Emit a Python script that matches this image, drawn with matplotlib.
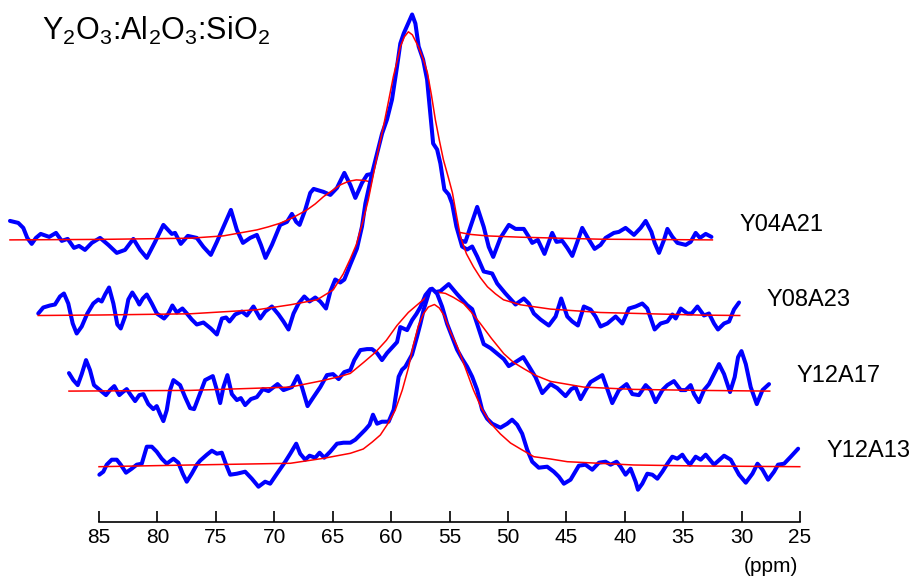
import matplotlib.pyplot as plt

plt.rcParams['font.family'] = ['Liberation Sans', 'DejaVu Sans']
plt.rcParams['mathtext.fontset'] = 'custom'
plt.rcParams['mathtext.rm'] = 'Liberation Sans'
plt.rcParams['mathtext.it'] = 'Liberation Sans:italic'

# spectra, top to bottom of the stack (own ppm scale, intensity in arbitrary units)
samples = ['Y04A21', 'Y08A23', 'Y12A17', 'Y12A13']

y04a21_ppm = [84.91, 84.20, 83.77, 83.43, 83.05, 82.69, 82.28, 81.55, 80.97, 80.48,
              79.97, 79.43, 79.00, 78.49, 77.91, 77.20, 76.49, 75.77, 75.06, 74.35,
              73.77, 73.20, 72.49, 71.78, 71.06, 70.78, 70.29, 69.69, 68.92, 68.35,
              67.72, 67.20, 66.64, 66.00, 65.49, 64.97, 64.35, 63.78, 63.43, 63.04,
              62.49, 61.78, 61.20, 60.78, 60.41, 60.12, 59.64, 59.21, 58.92, 58.07,
              57.49, 56.92, 56.29, 55.78, 55.35, 54.78, 54.35, 53.92, 53.21, 51.92,
              50.64, 49.35, 48.07, 47.21, 46.53, 45.93, 45.50, 44.92, 44.36, 43.93,
              43.55, 42.93, 42.21, 41.64, 40.93, 40.50, 40.21, 39.73, 39.16, 38.50,
              38.13, 37.64, 37.21, 36.78, 36.35, 35.93, 35.45, 34.87, 34.36, 33.93,
              33.22, 32.79, 32.22, 31.50, 30.93, 30.50, 30.01, 29.73, 29.36, 28.93,
              28.64, 28.21, 27.78, 27.07, 26.65, 26.22, 25.85, 25.36, 24.87]
y04a21_int = [19, 17, 12, 2, -4, 2, 6, 3, 7, -1,
              1, -8, -6, -10, -3, 2, -5, -13, -10, 1,
              -10, -18, -2, 15, 6, 7, -4, 4, 2, -7,
              -15, -2, 13, 30, 10, -3, 2, 5, -5, -18,
              -5, 15, 18, 26, 18, 15, 30, 47, 51, 48,
              45, 52, 67, 55, 42, 57, 65, 66, 58, 54,
              50, 42, 28, 14, 0, -2, 13, 33, 13, -7,
              -17, 2, 15, 11, 11, 3, -3, 0, -14, 7,
              -2, -1, -8, -16, -2, 12, 2, -9, -5, 2,
              7, 8, 12, 5, 12, 19, 8, -3, -13, 0,
              11, 3, -3, -5, -2, 7, 2, 6, 3]
y04a21_fit_ppm = [84.91, 77.20, 69.49, 66.66, 65.21, 63.78, 62.81, 61.78, 60.66, 59.49,
                  58.78, 58.07, 57.49, 56.64, 55.95, 55.27, 54.58, 53.89, 52.35, 50.64,
                  48.92, 47.64, 46.53, 45.50, 44.07, 41.21, 34.36, 24.79]
y04a21_fit_int = [0, 0.5, 1.7, 4, 7, 10, 13, 16.7, 22.5, 30,
                  36, 43.3, 48, 55, 58.5, 60, 59.5, 57.5, 53, 45,
                  33, 19, 7.7, 5.5, 4, 2.7, 0.7, 0]

y08a23_ppm = [85.06, 84.63, 84.06, 83.63, 83.20, 82.86, 82.49, 82.11, 81.77, 81.34,
              80.86, 80.35, 79.92, 79.63, 79.34, 79.00, 78.63, 78.29, 78.00, 77.63,
              77.35, 77.01, 76.63, 76.41, 76.11, 75.77, 75.34, 74.91, 74.29, 73.92,
              73.58, 73.20, 72.72, 72.34, 71.92, 71.49, 70.92, 70.29, 69.77, 69.34,
              68.98, 68.69, 68.21, 67.63, 67.20, 66.64, 66.06, 65.63, 65.06, 64.49,
              64.07, 63.64, 63.21, 62.78, 62.29, 61.84, 61.35, 60.92, 60.43, 60.06,
              59.64, 59.21, 58.86, 58.35, 57.78, 57.35, 57.06, 56.49, 56.06, 55.63,
              55.21, 54.78, 54.35, 54.07, 53.78, 53.44, 53.06, 52.78, 52.50, 52.12,
              51.78, 51.50, 51.26, 50.92, 50.64, 50.30, 49.93, 49.64, 49.27, 48.78,
              48.35, 47.92, 47.49, 46.93, 46.21, 45.78, 45.07, 44.21, 43.50, 43.07,
              42.64, 42.07, 41.36, 40.78, 40.30, 39.78, 39.35, 38.87, 38.36, 37.79,
              37.36, 36.93, 36.35, 35.64, 35.07, 34.50, 33.93, 33.36, 32.93, 32.30,
              31.79, 31.21, 30.78, 30.50, 30.07, 29.50, 29.13, 28.64, 28.08, 27.65,
              27.22, 26.88, 26.36, 25.93, 25.51, 25.08]
y08a23_int = [2, 8, 10, 11, 19, 22, 12, -8, -18, -11,
              2, 12, 16, 14, 21, 28, 12, -9, -13, -1,
              16, 23, 16, 11, 17, 21, 12, 2, -3, 2,
              10, 3, 7, 2, -4, -9, -7, -13, -19, -3,
              -2, -6, 1, 4, 0, 9, -3, 4, 9, 1,
              -6, -14, 2, 12, 19, 14, 18, 14, 7, 24,
              36, 33, 36, 51, 67, 89, 112, 142, 162, 182,
              196, 216, 249, 272, 282, 291, 301, 292, 269, 256,
              236, 202, 172, 166, 152, 126, 121, 112, 89, 69,
              66, 69, 59, 44, 42, 32, 22, 11, 17, 12,
              2, -4, -10, -1, 17, -1, -6, -10, 9, 6,
              -1, -11, -8, -1, -8, 7, 9, 12, 7, -14,
              -8, -6, 1, -3, 7, 2, 2, 9, 0, 2,
              -8, -14, -8, -6, 6, 13]
y08a23_fit_ppm = [85.06, 79.77, 72.06, 66.35, 63.49, 61.20, 59.81, 58.95, 58.35, 57.84,
                  57.24, 56.81, 56.38, 55.95, 55.52, 55.09, 54.67, 54.32, 54.07, 53.72,
                  53.38, 53.04, 52.52, 52.09, 51.75, 51.41, 51.07, 50.72, 50.38, 49.95,
                  49.61, 49.27, 48.92, 48.41, 47.81, 47.21, 46.61, 45.93, 45.24, 43.78,
                  41.21, 36.93, 28.36, 25.02]
y08a23_fit_int = [0, 0.5, 1.7, 5.7, 10.7, 15.7, 25.7, 41.7, 56.7, 70.7,
                  95.7, 115.7, 140.7, 165.7, 188.7, 213.7, 238.7, 255.7, 268.7, 278.7,
                  283.7, 280.7, 268.7, 255.7, 242.7, 220.7, 195.7, 174.7, 155.7, 137.7,
                  122.7, 100.7, 78.7, 61.7, 48.7, 37.7, 28.7, 21.7, 15.7, 10.7,
                  6.4, 3, 0.4, 0]

y12a17_ppm = [85.00, 84.63, 84.25, 83.91, 83.54, 83.20, 82.86, 82.34, 81.83, 81.49,
              81.12, 80.69, 80.40, 80.06, 79.71, 79.34, 78.98, 78.63, 78.21, 77.78,
              77.49, 77.20, 76.92, 76.63, 76.35, 76.06, 75.49, 75.06, 74.63, 74.29,
              73.77, 73.35, 72.69, 72.34, 72.06, 71.78, 71.44, 71.06, 70.63, 70.29,
              69.92, 69.43, 68.92, 68.40, 67.92, 67.15, 66.64, 65.92, 65.44, 65.06,
              64.58, 64.07, 63.49, 62.92, 62.40, 61.92, 61.44, 60.92, 60.58, 60.06,
              59.49, 59.06, 58.63, 58.21, 57.78, 56.92, 56.64, 56.06, 55.63, 55.27,
              54.92, 54.49, 54.07, 53.64, 53.21, 52.50, 51.78, 50.92, 50.49, 50.06,
              49.50, 48.92, 48.50, 47.78, 47.36, 46.78, 46.12, 45.64, 45.07, 44.49,
              43.78, 43.21, 42.50, 42.01, 41.64, 41.21, 40.78, 40.36, 39.78, 39.35,
              38.98, 38.50, 37.93, 37.27, 36.78, 36.22, 35.64, 35.21, 34.79, 34.21,
              33.78, 33.22, 32.64, 32.22, 31.79, 31.50, 31.08, 30.65, 30.22, 29.79,
              29.36, 28.93, 28.42, 28.02, 27.73, 27.44, 27.07, 26.65, 26.13, 25.64,
              25.08]
y12a17_int = [18, 11, 6, 17, 31, 21, 6, 1, -4, 1,
              5, -4, -1, 2, -4, -10, -4, -3, -13, -18,
              -15, -23, -30, -19, 1, 11, 6, -6, -17, -18,
              -2, 11, 15, 1, -12, 4, 16, -3, -9, -7,
              -14, -8, -6, 2, 0, 7, 1, 4, 15, 4,
              -15, -6, 4, 16, 17, 12, 19, 21, 31, 41,
              42, 42, 38, 31, 38, 49, 64, 61, 71, 77,
              84, 96, 102, 99, 100, 107, 97, 86, 82, 67,
              47, 43, 39, 32, 25, 29, 34, 25, 14, -2,
              7, 3, -5, 2, 4, -8, 1, 9, 13, 16,
              4, -12, 1, 7, -3, -4, 6, 1, -11, 1,
              6, 10, 1, 1, 6, -3, -11, 1, 7, 17,
              27, 17, -1, 14, 34, 40, 27, 4, -13, 1,
              7]
y12a17_fit_ppm = [85.00, 74.63, 66.06, 63.21, 61.78, 60.92, 59.78, 58.78, 57.84, 56.92,
                  55.95, 54.92, 54.24, 53.49, 52.78, 52.09, 51.21, 50.55, 49.78, 48.84,
                  47.78, 46.95, 46.07, 45.07, 43.78, 40.93, 36.65, 30.93, 25.02]
y12a17_fit_int = [0, 0.7, 4, 10.7, 14.7, 17.7, 28.7, 38.7, 50.7, 65.7,
                  78.7, 89, 95.7, 99, 97.7, 93.7, 87.4, 78.7, 67.4, 52.7,
                  37.4, 28.7, 22.4, 15.7, 9.7, 4, 1.7, 0.7, 0]

y12a13_ppm = [84.97, 84.63, 84.34, 83.91, 83.48, 83.14, 82.69, 82.20, 81.77, 81.34,
              80.91, 80.48, 80.06, 79.63, 79.20, 78.63, 78.21, 77.83, 77.49, 77.06,
              76.63, 76.35, 75.77, 75.34, 74.91, 74.49, 74.12, 73.77, 73.20, 72.49,
              71.92, 71.35, 70.78, 70.35, 69.77, 69.06, 68.63, 68.12, 67.78, 67.35,
              66.98, 66.49, 66.12, 65.72, 65.21, 64.63, 64.07, 63.49, 63.06, 62.63,
              62.21, 61.84, 61.55, 61.20, 60.78, 60.21, 59.78, 59.35, 59.06, 58.78,
              58.21, 57.78, 57.49, 57.21, 56.92, 56.70, 56.49, 56.06, 55.63, 55.21,
              54.78, 54.35, 53.92, 53.49, 53.06, 52.64, 52.21, 51.78, 51.35, 50.64,
              50.06, 49.64, 49.21, 48.78, 48.35, 47.92, 47.36, 46.64, 46.07, 45.64,
              45.21, 44.64, 43.93, 43.36, 42.78, 42.21, 41.64, 41.21, 40.70, 40.36,
              39.93, 39.50, 39.07, 38.87, 38.50, 38.07, 37.64, 37.21, 36.78, 36.35,
              35.93, 35.50, 35.07, 34.79, 34.42, 33.93, 33.50, 33.07, 32.36, 31.50,
              30.93, 30.22, 29.64, 29.07, 28.64, 28.21, 27.73, 27.22, 26.88, 26.36,
              25.79, 25.16]
y12a13_int = [-8, -5, 2, 7, 7, 2, -6, -2, 2, 3,
              20, 20, 15, 8, 3, 8, 4, -7, -15, -7,
              2, 6, 12, 16, 13, 14, 2, -8, -7, -5,
              -12, -20, -15, -17, -7, 5, 13, 23, 13, 7,
              11, 9, 14, 9, 15, 23, 24, 24, 27, 32,
              37, 42, 52, 43, 45, 45, 57, 90, 97, 100,
              112, 130, 143, 157, 168, 176, 178, 173, 160, 143,
              130, 117, 108, 100, 90, 77, 57, 48, 43, 39,
              43, 47, 42, 33, 17, 5, -1, 0, -5, -10,
              -17, -13, 1, 2, -3, 4, 5, 2, 5, 0,
              -8, -2, -15, -23, -17, -7, -8, -12, -5, 3,
              10, 8, 12, 7, 2, 10, 7, 12, 2, 11,
              7, -8, -16, -7, 3, -3, -13, -5, 2, 3,
              10, 18]
y12a13_fit_ppm = [85.00, 77.20, 68.63, 65.78, 63.49, 62.38, 61.61, 60.92, 60.24, 59.64,
                  59.04, 58.52, 58.09, 57.67, 57.24, 56.81, 56.29, 55.87, 55.44, 54.92,
                  54.32, 53.64, 52.95, 52.27, 51.50, 50.64, 49.78, 48.92, 47.78, 46.35,
                  44.92, 39.22, 33.50, 25.02]
y12a13_fit_int = [0, 1.7, 3.4, 8.4, 13.4, 17.7, 24.7, 31.7, 43.7, 56.7,
                  76.7, 98.7, 121.7, 140.7, 152.7, 159.7, 162.2, 158.7, 150.7, 134.7,
                  119.7, 98.7, 76.7, 58.7, 43.7, 32.7, 23.7, 17.7, 10, 7.7,
                  5, 1.7, 0.7, 0]

spectra = [
    (y04a21_ppm, y04a21_int, y04a21_fit_ppm, y04a21_fit_int),
    (y08a23_ppm, y08a23_int, y08a23_fit_ppm, y08a23_fit_int),
    (y12a17_ppm, y12a17_int, y12a17_fit_ppm, y12a17_fit_int),
    (y12a13_ppm, y12a13_int, y12a13_fit_ppm, y12a13_fit_int),
]

ppm_shift = 2.57     # horizontal stagger per row (ppm)
row_step = 75.6      # vertical stagger per row
base_offset = 55.3

fig = plt.figure(figsize=(9.12, 5.85), dpi=100)
ax = fig.add_axes([99 / 912, 63 / 585, 701 / 912, 522 / 585])

for i, (name, (ppm, inten, fppm, fint)) in enumerate(zip(samples, spectra)):
    k = len(samples) - 1 - i
    dx = k * ppm_shift
    dy = base_offset + k * row_step
    x = [p + dx for p in ppm]
    y = [v + dy for v in inten]
    fx = [p + dx for p in fppm]
    fy = [v + dy for v in fint]
    z = 3 + 3 * i
    # lower spectra are drawn in front and hide what lies behind them
    ax.fill_between(x, y, dy - 40, color='white', lw=0, zorder=z, clip_on=False)
    ax.plot(x, y, color='#0000ff', lw=2.9, zorder=z + 1, clip_on=False,
            solid_joinstyle='round', solid_capstyle='round')
    ax.plot(fx, fy, color='#ff0000', lw=1.1, zorder=z + 2, clip_on=False)
    ax.annotate(name, xy=(fx[-1], dy), xytext=(19.5, 11), textcoords='offset points',
                ha='left', va='center', fontsize=17, annotation_clip=False)

ax.set_xlim(85, 25)
ax.set_ylim(0, 522)
ax.set_xticks(range(85, 24, -5))
ax.set_yticks([])
for side in ['left', 'right', 'top']:
    ax.spines[side].set_visible(False)
ax.spines['bottom'].set_linewidth(1.2)
ax.tick_params(axis='x', direction='in', length=8, width=1.2, labelsize=15, pad=4)
ax.patch.set_alpha(0)

ax.annotate('(ppm)', xy=(27.5, 0), xycoords=('data', 'axes fraction'),
            xytext=(0, -32), textcoords='offset points',
            ha='center', va='center', fontsize=15, annotation_clip=False)

fig.text(42 / 912, 1 - 40 / 585, 'Y$_2$O$_3$:Al$_2$O$_3$:SiO$_2$',
         fontsize=22, ha='left', va='baseline')

fig.savefig('out.png', dpi=100)
